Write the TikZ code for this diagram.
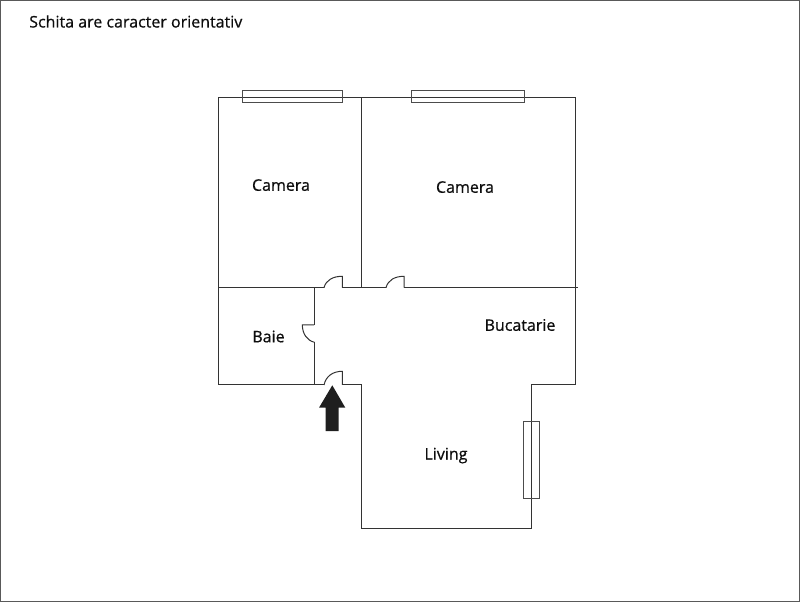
\documentclass[tikz,border=0pt]{standalone}
\usepackage{fontspec}
\setmainfont{Open Sans}[FakeBold=0.6]
\tikzset{
  wall/.style={draw=black!80,line width=0.75pt,line join=miter},
  winbox/.style={draw=black!70,line width=0.75pt},
  lbl/.style={inner sep=0pt,text=black!95,anchor=base,font=\fontsize{12pt}{14pt}\selectfont},
}
\begin{document}
\begin{tikzpicture}[x=0.75pt,y=-0.75pt]
\useasboundingbox (0,0) rectangle (800,602);
\draw[draw=black!65,line width=0.75pt] (0.5,0.5) rectangle (799.5,601.5);
% outer and inner walls
\draw[wall] (324,287.7) -- (218,287.7) -- (218,97.3) -- (575.3,97.3) -- (575.3,385) -- (531.7,385) -- (531.7,528.3) -- (361,528.3) -- (361,385) -- (342.3,385);
\draw[wall] (324,385) -- (218,385) -- (218,287.7);
\draw[wall] (361,97.3) -- (361,287.7);
\draw[wall] (342.3,287.7) -- (386,287.7);
\draw[wall] (404,287.7) -- (578,287.7);
\draw[wall] (314,287.7) -- (314,325);
\draw[wall] (314,342.3) -- (314,385);
% doors
\draw[wall] (324,287.7) .. controls (326,280) and (333,276.3) .. (342.3,276.3) -- (342.3,287.7);
\draw[wall] (386,287.7) .. controls (388,280) and (395,276.3) .. (404,276.3) -- (404,287.7);
\draw[wall] (324,385) .. controls (326,376) and (333,371.3) .. (342.3,371.3) -- (342.3,385);
\draw[wall] (314,325) -- (302.3,325) .. controls (302.5,334) and (307,340.5) .. (314.5,342.3);
% windows
\draw[winbox] (242.3,90.7) rectangle (342.3,102.3);
\draw[winbox] (411.7,90.7) rectangle (524.3,102.3);
\draw[winbox] (523.7,421) rectangle (539.7,498);
% entrance arrow
\fill[black!88] (332.3,385.3) -- (345.3,407.7) -- (338.7,407.7) -- (338.7,431) -- (325.7,431) -- (325.7,407.7) -- (319,407.7) -- cycle;
% labels
\node[lbl,anchor=base west] (title) at (29,27.5) {Schita are caracter orientativ};
\node[lbl] (cam1) at (281,190.8) {Camera};
\node[lbl] (cam2) at (465,192.8) {Camera};
\node[lbl] (baie) at (268.5,342.3) {Baie};
\node[lbl] (buc) at (520,330.8) {Bucatarie};
\node[lbl] (liv) at (446,459.5) {Living};
\end{tikzpicture}
\end{document}
